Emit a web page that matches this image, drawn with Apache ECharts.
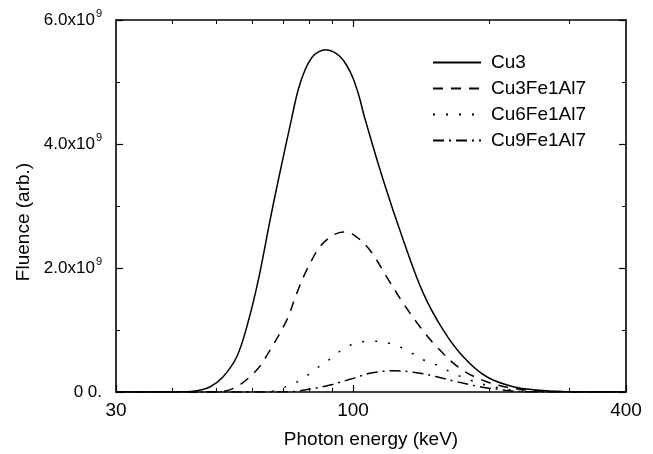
<!DOCTYPE html>
<html>
<head>
<meta charset="utf-8">
<script src="https://cdn.jsdelivr.net/npm/echarts@6/dist/echarts.min.js"></script>
<style>
html,body{margin:0;padding:0;background:#fff;}
#chart{width:653px;height:454px;}
</style>
</head>
<body>
<div id="chart"></div>
<script>
// Photon energy (keV) and fluence (×1e9, arb.)
var cu3E = [30, 36, 41.5, 45.2, 48.4, 51.7, 55.4, 58.3, 61.8, 65.6, 68.4, 73.2, 75.6, 78.3, 81.2, 83.9, 87.0, 90.3, 93.6, 96.8, 100.0, 103.1, 106.2, 116.6, 129.1, 142.9, 158.1, 175.0, 197.1, 225.6, 254.2, 296, 400];
var cu3V = [0, 0, 0.003, 0.02, 0.085, 0.246, 0.569, 1.052, 1.804, 2.77, 3.415, 4.41, 4.864, 5.19, 5.40, 5.485, 5.52, 5.49, 5.41, 5.27, 5.06, 4.77, 4.41, 3.415, 2.448, 1.59, 0.999, 0.569, 0.246, 0.085, 0.032, 0.005, 0];

var cu3fe1E = [30, 45, 50.9, 55.4, 61.3, 65.6, 71.4, 75.1, 79.0, 84.5, 90.0, 95.2, 101.0, 109.0, 118.6, 129.1, 140.5, 152.9, 172.1, 197.1, 233.4, 300, 400];
var cu3fe1V = [0, 0, 0.005, 0.085, 0.354, 0.677, 1.16, 1.59, 1.965, 2.34, 2.52, 2.582, 2.52, 2.287, 1.857, 1.429, 1.052, 0.73, 0.382, 0.166, 0.043, 0.005, 0];

var cu6fe1E = [30, 55, 65.6, 72.6, 77.7, 83.1, 90.5, 96.8, 109.0, 120.6, 131.3, 140.5, 152.9, 166.4, 181.1, 203.9, 233.4, 300, 400];
var cu6fe1V = [0, 0, 0.01, 0.113, 0.221, 0.382, 0.569, 0.73, 0.821, 0.784, 0.677, 0.543, 0.435, 0.301, 0.193, 0.085, 0.02, 0.003, 0];

var cu9fe1E = [30, 60, 72.6, 80.4, 89.0, 98.5, 109.0, 122.7, 138.2, 152.9, 169.3, 190.5, 214.4, 237.4, 300, 400];
var cu9fe1V = [0, 0, 0.005, 0.048, 0.113, 0.205, 0.301, 0.343, 0.311, 0.246, 0.166, 0.085, 0.032, 0.005, 0, 0];

var seriesNames = ['Cu3', 'Cu3Fe1Al7', 'Cu6Fe1Al7', 'Cu9Fe1Al7'];
var xMajor = [30, 100, 400];
var xMinor = [40, 50, 60, 70, 80, 90, 200, 300];
var yLabels = {0: '0 0.', 2000000000: '2.0x10', 4000000000: '4.0x10', 6000000000: '6.0x10'};

function pairs(E, V) {
  var out = [];
  for (var i = 0; i < E.length; i++) out.push([E[i], V[i] * 1e9]);
  return out;
}

var FONT = 'Liberation Sans';
var FS = 19;
var chart = echarts.init(document.getElementById('chart'), null, {renderer: 'canvas'});

var axisLine = {show: true, lineStyle: {color: '#000', width: 1.6}};

function makeX(opts) {
  var base = {
    type: 'log', logBase: 10, min: 30, max: 400, gridIndex: 0,
    axisLine: axisLine,
    splitLine: {show: false},
    minorTick: {show: false},
    minorSplitLine: {show: false}
  };
  for (var k in opts) base[k] = opts[k];
  return base;
}

var lineTypes = ['solid', [10, 8], [2, 11], [11, 5, 2, 5]];
var datas = [pairs(cu3E, cu3V), pairs(cu3fe1E, cu3fe1V), pairs(cu6fe1E, cu6fe1V), pairs(cu9fe1E, cu9fe1V)];

var series = seriesNames.map(function (n, i) {
  return {
    name: n, type: 'line', data: datas[i], smooth: 0.35, symbol: 'none', showSymbol: false,
    xAxisIndex: 0, yAxisIndex: 0,
    lineStyle: {color: '#000', width: 1.5, type: lineTypes[i]},
    itemStyle: {color: '#000'},
    animation: false
  };
});

chart.setOption({
  animation: false,
  backgroundColor: '#fff',
  grid: {left: 116, right: 27, top: 20, bottom: 62},
  legend: {
    show: true,
    orient: 'vertical', left: 427, top: 48, itemWidth: 48, itemHeight: 14, itemGap: 7,
    selectedMode: false,
    itemStyle: {color: 'rgba(0,0,0,0)', borderColor: 'rgba(0,0,0,0)', borderWidth: 0},
    textStyle: {fontFamily: FONT, fontSize: FS, color: '#000', padding: [0, 0, 0, 5]},
    data: seriesNames
  },
  xAxis: [
    makeX({
      position: 'bottom',
      name: 'Photon energy (keV)', nameLocation: 'middle', nameGap: 38,
      nameTextStyle: {fontFamily: FONT, fontSize: FS, color: '#000'},
      axisTick: {show: true, inside: true, length: 7, lineStyle: {color: '#000', width: 1.2}, customValues: xMajor},
      axisLabel: {show: true, margin: 9, fontFamily: FONT, fontSize: FS, color: '#000', customValues: xMajor, formatter: function (v) { return String(Math.round(v)); }}
    }),
    makeX({
      position: 'bottom',
      axisLine: {show: false},
      axisTick: {show: true, inside: true, length: 4, lineStyle: {color: '#000', width: 1}, customValues: xMinor},
      axisLabel: {show: false}
    }),
    makeX({
      position: 'top',
      axisTick: {show: true, inside: true, length: 7, lineStyle: {color: '#000', width: 1.2}, customValues: [100]},
      axisLabel: {show: false}
    }),
    makeX({
      position: 'top',
      axisLine: {show: false},
      axisTick: {show: true, inside: true, length: 4, lineStyle: {color: '#000', width: 1}, customValues: xMinor},
      axisLabel: {show: false}
    })
  ],
  yAxis: [
    {
      type: 'value', min: 0, max: 6e9, interval: 2e9, position: 'left',
      name: 'Fluence (arb.)', nameLocation: 'middle', nameGap: 80,
      nameTextStyle: {fontFamily: FONT, fontSize: FS, color: '#000', padding: [0, 32, 0, 0]},
      axisLine: axisLine,
      splitLine: {show: false},
      axisTick: {show: true, inside: true, length: 7, lineStyle: {color: '#000', width: 1.2}},
      minorTick: {show: true, splitNumber: 2, length: 4, lineStyle: {color: '#000', width: 1}},
      axisLabel: {
        margin: 14, color: '#000',
        formatter: function (v) {
          if (v === 0) return '{b|' + yLabels[0] + '}';
          return '{b|' + yLabels[v] + '}{s|9}';
        },
        rich: {
          b: {fontFamily: FONT, fontSize: 17, color: '#000'},
          s: {fontFamily: FONT, fontSize: 11, color: '#000', padding: [0, 0, 12, 1]}
        }
      }
    },
    {
      type: 'value', min: 0, max: 6e9, interval: 2e9, position: 'right',
      axisLine: axisLine,
      splitLine: {show: false},
      axisTick: {show: true, inside: true, length: 7, lineStyle: {color: '#000', width: 1.2}},
      minorTick: {show: true, splitNumber: 2, length: 4, lineStyle: {color: '#000', width: 1}},
      axisLabel: {show: false}
    }
  ],
  series: series
});
</script>
</body>
</html>
